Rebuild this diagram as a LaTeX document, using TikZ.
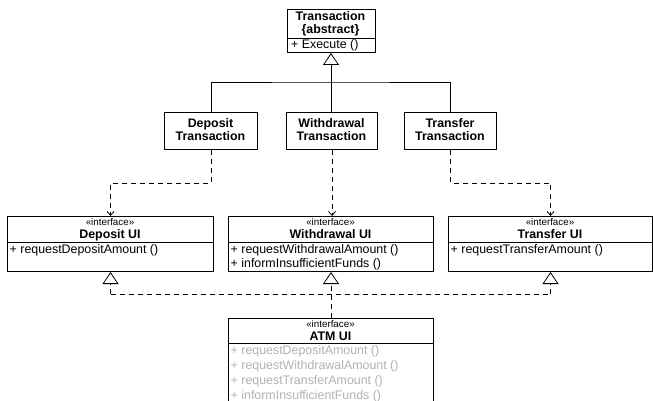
\documentclass[tikz,border=0pt]{standalone}
\usepackage{fontspec}
\setmainfont{Liberation Sans}
\usetikzlibrary{arrows.meta}
\definecolor{ghost}{RGB}{178,178,178}
\begin{document}
\begin{tikzpicture}[x=1pt,y=-1pt,
  umlbox/.style={draw, line width=1pt, inner sep=0pt, anchor=north west},
  sepline/.style={line width=1pt},
  lbl/.style={inner sep=0pt, anchor=base, font=\fontsize{12.4}{14}\selectfont\bfseries},
  meth/.style={inner sep=0pt, anchor=base west, font=\fontsize{12.4}{14}\selectfont},
  stereo/.style={inner sep=0pt, anchor=base, font=\fontsize{9.8}{12}\selectfont},
  conn/.style={line width=0.8pt},
  depc/.style={conn, dash pattern=on 5pt off 4pt, -{Straight Barb[length=4pt,width=7pt]}},
  gen/.style={conn, -{Triangle[open,length=12pt,width=16pt]}},
  real/.style={conn, dash pattern=on 5pt off 4pt, -{Triangle[open,length=12pt,width=16pt]}},
  rbus/.style={conn, dash pattern=on 5pt off 4pt}]
\clip (0,0) rectangle (653,401);
\fill[white] (0,0) rectangle (653,401);

% Transaction
\node[umlbox, minimum width=88pt, minimum height=43pt] (trans) at (286.5,9) {};
\draw[sepline] (286.5,38.7) -- (374.5,38.7);
\node[lbl] (transname) at (330.5,20.7) {Transaction};
\node[lbl] (transabs) at (330.5,33.5) {\{abstract\}};
\node[meth] (transm) at (291,49) {+ Execute ()};

% Transactions
\node[umlbox, minimum width=93pt, minimum height=37pt] (dep) at (164,112) {};
\node[lbl] (depn1) at (210.5,127.3) {Deposit};
\node[lbl] (depn2) at (210.5,140.7) {Transaction};
\node[umlbox, minimum width=91pt, minimum height=37pt] (wd) at (286,112) {};
\node[lbl] (wdn1) at (331.5,127.3) {Withdrawal};
\node[lbl] (wdn2) at (331.5,140.7) {Transaction};
\node[umlbox, minimum width=92pt, minimum height=37pt] (tr) at (404,112) {};
\node[lbl] (trn1) at (450,127.3) {Transfer};
\node[lbl] (trn2) at (450,140.7) {Transaction};

% Interfaces
\node[umlbox, minimum width=206pt, minimum height=55pt] (depui) at (7,216) {};
\draw[sepline] (7,242) -- (213,242);
\node[stereo] (depuis) at (110,225) {«interface»};
\node[lbl] (depuin) at (110,238.5) {Deposit UI};
\node[meth] (depuim) at (9.5,253.5) {+ requestDepositAmount ()};

\node[umlbox, minimum width=205pt, minimum height=55pt] (wdui) at (228,216) {};
\draw[sepline] (228,242) -- (433,242);
\node[stereo] (wduis) at (330.5,225) {«interface»};
\node[lbl] (wduin) at (330.5,238.5) {Withdrawal UI};
\node[meth] (wduim1) at (230.5,253.5) {+ requestWithdrawalAmount ()};
\node[meth] (wduim2) at (230.5,267.5) {+ informInsufficientFunds ()};

\node[umlbox, minimum width=204pt, minimum height=55pt] (trui) at (448,216) {};
\draw[sepline] (448,242) -- (652,242);
\node[stereo] (truis) at (550,225) {«interface»};
\node[lbl] (truin) at (550,238.5) {Transfer UI};
\node[meth] (truim) at (450.5,253.5) {+ requestTransferAmount ()};

\node[umlbox, minimum width=205pt, minimum height=110pt] (atm) at (228,318) {};
\draw[sepline] (228,343) -- (433,343);
\node[stereo] (atms) at (330.5,327) {«interface»};
\node[lbl] (atmn) at (330.5,340.5) {ATM UI};
\node[meth, text=ghost] (atmm1) at (230.5,354.5) {+ requestDepositAmount ()};
\node[meth, text=ghost] (atmm2) at (230.5,369.5) {+ requestWithdrawalAmount ()};
\node[meth, text=ghost] (atmm3) at (230.5,384.5) {+ requestTransferAmount ()};
\node[meth, text=ghost] (atmm4) at (230.5,399.5) {+ informInsufficientFunds ()};

% Generalization
\coordinate (genbus) at (330.5,82);
\draw[gen] (trans.south |- wd.north) -- (trans.south);
\draw[conn] (dep.north) |- (genbus) -| (tr.north);

% Dependencies
\coordinate (depy) at (0,183);
\draw[depc] (dep.south) -- (dep.south |- depy) -| (depui.north);
\draw[depc] (wd.south) -- (wd.south |- wdui.north);
\draw[depc] (tr.south) -- (tr.south |- depy) -| (trui.north);

% Realization
\coordinate (rbusc) at (330.5,294);
\draw[real] (atm.north) -- (wdui.south);
\draw[rbus] (depui.south |- rbusc) -- (trui.south |- rbusc);
\draw[real] (depui.south |- rbusc) -- (depui.south);
\draw[real] (trui.south |- rbusc) -- (trui.south);
\end{tikzpicture}
\end{document}
